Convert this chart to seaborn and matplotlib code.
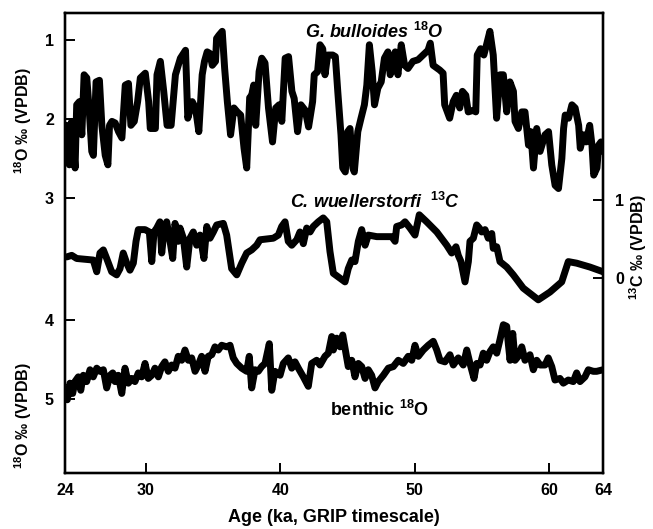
import numpy as np
import pandas as pd
import matplotlib
matplotlib.use("Agg")
import matplotlib.pyplot as plt
import seaborn as sns

# ---------------- data ----------------
bull_age = [24.0, 24.13, 24.32, 24.50, 24.75, 24.87, 25.07, 25.25, 25.42, 25.62, 25.81, 25.99, 26.11, 26.31,
            26.56, 26.74, 26.99, 27.19, 27.31, 27.49, 27.73, 27.98, 28.23, 28.48, 28.72, 28.90, 29.15, 29.40,
            29.60, 29.97, 30.22, 30.34, 30.72, 30.84, 31.09, 31.34, 31.59, 31.89, 32.21, 32.58, 32.96, 33.13,
            33.46, 33.70, 33.95, 34.20, 34.37, 34.57, 34.77, 34.95, 35.19, 35.27, 35.44, 35.69, 35.87, 36.07,
            36.31, 36.56, 36.81, 37.06, 37.31, 37.51, 37.73, 37.88, 38.03, 38.18, 38.43, 38.63, 38.87, 39.13,
            39.43, 39.67, 39.92, 40.12, 40.37, 40.62, 40.87, 41.04, 41.29, 41.54, 41.86, 42.11, 42.41, 42.53,
            42.78, 42.96, 43.16, 43.33, 43.53, 43.90, 44.10, 44.28, 44.52, 44.65, 44.84, 45.02, 45.19, 45.40,
            45.51, 45.77, 46.01, 46.26, 46.44, 46.63, 46.84, 47.01, 47.26, 47.51, 47.75, 48.01, 48.18, 48.38,
            48.55, 48.75, 49.00, 49.25, 49.50, 49.87, 50.25, 50.62, 50.99, 51.16, 51.37, 51.86, 52.11, 52.23,
            52.60, 52.86, 53.10, 53.35, 53.55, 53.80, 53.98, 54.35, 54.54, 54.65, 54.90, 55.14, 55.34, 55.59,
            55.84, 56.09, 56.34, 56.59, 56.84, 57.08, 57.34, 57.46, 57.71, 57.96, 58.20, 58.46, 58.63, 58.83,
            59.07, 59.32, 59.69, 59.95, 60.19, 60.44, 60.69, 60.94, 61.07, 61.19, 61.44, 61.69, 61.93, 62.19,
            62.31, 62.56, 62.75, 63.01, 63.18, 63.31, 63.55, 63.68, 63.85, 64.0]
bull_d18O = [2.54, 2.08, 2.58, 2.03, 2.62, 1.82, 1.78, 2.20, 1.44, 1.48, 1.91, 2.41, 2.46, 1.53,
             1.51, 2.08, 2.46, 2.58, 2.08, 2.03, 2.05, 2.16, 2.24, 1.57, 1.55, 2.08, 2.03, 1.78,
             1.48, 1.42, 1.78, 2.12, 2.12, 1.44, 1.27, 1.65, 2.08, 2.08, 1.44, 1.23, 1.13, 1.99,
             1.78, 1.86, 2.16, 1.44, 1.27, 1.15, 1.17, 1.32, 1.27, 0.98, 0.94, 0.89, 1.36, 1.78,
             2.20, 1.86, 1.91, 1.95, 2.37, 2.62, 1.73, 1.70, 1.57, 2.08, 1.40, 1.23, 1.29, 1.86,
             2.29, 1.86, 1.82, 2.03, 1.23, 1.21, 1.65, 1.74, 2.16, 1.82, 1.89, 2.10, 1.78, 1.44,
             1.40, 1.06, 1.11, 1.44, 1.19, 1.19, 1.21, 1.65, 2.20, 2.62, 2.67, 2.16, 2.12, 2.62,
             2.67, 2.16, 1.99, 1.82, 1.57, 1.06, 1.40, 1.82, 1.61, 1.53, 1.23, 1.15, 1.44, 1.32,
             1.15, 1.44, 1.06, 1.32, 1.36, 1.27, 1.25, 1.19, 1.13, 1.04, 1.32, 1.38, 1.42, 1.82,
             1.99, 1.78, 1.70, 1.86, 1.65, 1.70, 1.91, 1.89, 1.91, 1.19, 1.11, 1.19, 1.06, 0.89,
             1.19, 1.99, 1.44, 1.44, 1.91, 1.53, 1.65, 2.03, 2.12, 1.91, 1.91, 2.33, 2.16, 2.62,
             2.12, 2.41, 2.20, 2.16, 2.58, 2.84, 2.88, 2.50, 2.12, 1.95, 1.99, 1.82, 1.86, 2.08,
             2.37, 2.20, 2.29, 2.08, 2.33, 2.71, 2.62, 2.33, 2.29, 2.41]

cib_age = [24.13, 24.50, 24.87, 26.10, 26.36, 26.60, 26.85, 27.10, 27.47, 27.84, 28.09, 28.33, 28.59, 28.83,
           29.08, 29.28, 29.45, 29.95, 30.27, 30.45, 30.62, 30.82, 31.06, 31.19, 31.36, 31.56, 31.81, 32.01,
           32.18, 32.42, 32.55, 32.80, 33.05, 33.29, 33.54, 33.79, 34.04, 34.33, 34.54, 34.78, 35.03, 35.28,
           35.77, 36.02, 36.39, 36.77, 37.14, 37.51, 37.88, 38.25, 38.50, 39.49, 39.86, 40.11, 40.36, 40.60,
           40.86, 41.23, 41.47, 41.72, 41.97, 42.22, 42.46, 42.83, 43.20, 43.46, 43.70, 43.95, 44.82, 45.06,
           45.32, 45.56, 45.81, 46.06, 46.31, 46.55, 47.18, 48.29, 48.54, 48.66, 49.03, 49.28, 49.65, 50.02,
           50.34, 50.89, 51.64, 52.38, 52.75, 53.07, 53.24, 53.44, 53.74, 53.99, 54.11, 54.36, 54.61, 54.81,
           54.98, 55.23, 55.47, 55.73, 55.84, 56.10, 56.34, 56.84, 57.33, 58.07, 59.19, 60.06, 60.93, 61.42,
           62.04, 63.03, 64.0]
cib_d13C = [0.27, 0.29, 0.25, 0.23, 0.08, 0.32, 0.36, 0.25, 0.08, 0.04, 0.12, 0.32, 0.19, 0.10,
            0.19, 0.47, 0.62, 0.62, 0.59, 0.21, 0.59, 0.64, 0.72, 0.32, 0.59, 0.72, 0.47, 0.25,
            0.70, 0.47, 0.64, 0.51, 0.14, 0.51, 0.59, 0.42, 0.55, 0.25, 0.66, 0.51, 0.59, 0.68,
            0.70, 0.55, 0.12, 0.04, 0.19, 0.32, 0.36, 0.42, 0.49, 0.51, 0.55, 0.66, 0.72, 0.47,
            0.42, 0.49, 0.59, 0.44, 0.64, 0.59, 0.66, 0.72, 0.77, 0.72, 0.34, 0.06, -0.05, 0.12,
            0.23, 0.21, 0.47, 0.62, 0.42, 0.55, 0.53, 0.53, 0.47, 0.66, 0.68, 0.72, 0.64, 0.55,
            0.81, 0.72, 0.59, 0.42, 0.32, 0.40, 0.29, 0.21, -0.05, 0.21, 0.47, 0.51, 0.68, 0.64,
            0.59, 0.62, 0.51, 0.57, 0.38, 0.40, 0.21, 0.14, 0.04, -0.13, -0.28, -0.18, -0.05, 0.21,
            0.19, 0.14, 0.08]

ben_age = [24.00, 24.17, 24.37, 24.57, 24.74, 24.99, 25.17, 25.36, 25.61, 25.86, 26.10, 26.36, 26.60, 26.85,
           27.10, 27.35, 27.55, 27.72, 27.96, 28.22, 28.46, 28.71, 28.96, 29.20, 29.45, 29.70, 29.95, 30.19,
           30.45, 30.69, 30.94, 31.19, 31.43, 31.68, 31.93, 32.18, 32.42, 32.68, 32.92, 33.17, 33.42, 33.67,
           33.91, 34.16, 34.41, 34.65, 34.91, 35.15, 35.40, 35.65, 36.02, 36.27, 36.51, 36.77, 37.14, 37.51,
           37.70, 37.88, 38.13, 38.37, 38.62, 38.87, 39.19, 39.37, 39.61, 39.99, 40.23, 40.60, 40.86, 41.10,
           41.35, 41.72, 42.09, 42.34, 42.71, 42.96, 43.33, 43.58, 43.83, 43.95, 44.20, 44.45, 44.65, 44.89,
           45.06, 45.32, 45.56, 45.81, 46.06, 46.31, 46.55, 46.80, 47.05, 47.29, 47.67, 48.04, 48.41, 48.78,
           49.15, 49.52, 49.78, 50.02, 50.27, 50.64, 51.01, 51.38, 51.64, 51.88, 52.25, 52.62, 52.87, 53.24,
           53.61, 53.87, 54.11, 54.41, 54.61, 54.86, 55.10, 55.35, 55.60, 55.84, 56.10, 56.34, 56.59, 56.84,
           56.96, 57.09, 57.29, 57.46, 57.70, 57.96, 58.20, 58.57, 58.82, 59.07, 59.32, 59.69, 59.93, 60.19,
           60.43, 60.80, 61.05, 61.42, 61.79, 62.04, 62.29, 62.66, 62.91, 63.28, 63.53, 64.0]
ben_d18O = [4.89, 5.01, 4.80, 4.93, 4.78, 4.72, 4.89, 4.70, 4.78, 4.63, 4.72, 4.61, 4.65, 4.63,
            4.86, 4.70, 4.67, 4.78, 4.70, 4.93, 4.61, 4.80, 4.74, 4.78, 4.67, 4.72, 4.55, 4.74,
            4.70, 4.61, 4.72, 4.59, 4.53, 4.65, 4.57, 4.61, 4.46, 4.51, 4.38, 4.51, 4.48, 4.65,
            4.57, 4.46, 4.65, 4.46, 4.44, 4.34, 4.38, 4.32, 4.34, 4.32, 4.48, 4.55, 4.61, 4.65,
            4.46, 4.86, 4.63, 4.65, 4.59, 4.55, 4.30, 4.89, 4.65, 4.70, 4.55, 4.48, 4.61, 4.53,
            4.61, 4.72, 4.84, 4.55, 4.51, 4.57, 4.46, 4.42, 4.21, 4.38, 4.23, 4.34, 4.19, 4.42,
            4.59, 4.51, 4.72, 4.55, 4.59, 4.74, 4.63, 4.70, 4.86, 4.78, 4.70, 4.61, 4.59, 4.51,
            4.55, 4.46, 4.51, 4.32, 4.46, 4.38, 4.32, 4.27, 4.38, 4.51, 4.53, 4.44, 4.57, 4.48,
            4.57, 4.38, 4.55, 4.74, 4.55, 4.57, 4.42, 4.51, 4.40, 4.34, 4.42, 4.25, 4.06, 4.08,
            4.30, 4.51, 4.17, 4.51, 4.46, 4.34, 4.51, 4.44, 4.63, 4.51, 4.57, 4.57, 4.48, 4.59,
            4.76, 4.74, 4.80, 4.76, 4.78, 4.67, 4.78, 4.72, 4.63, 4.65, 4.65, 4.63]

x_ticks = [24, 30, 40, 50, 60, 64]
bull_ticks = [1, 2, 3]
ben_ticks = [4, 5]
cib_ticks = [0, 1]

# ---------------- style ----------------
sns.set_style("ticks")
plt.rcParams["font.family"] = ["Liberation Sans", "DejaVu Sans"]
plt.rcParams["mathtext.fontset"] = "custom"
plt.rcParams["mathtext.rm"] = "Liberation Sans"
plt.rcParams["mathtext.it"] = "Liberation Sans:italic"
plt.rcParams["mathtext.bf"] = "Liberation Sans:bold"
for k in ("text.color", "axes.labelcolor", "xtick.color", "ytick.color", "axes.edgecolor"):
    plt.rcParams[k] = "black"

fig = plt.figure(figsize=(6.53, 5.29), dpi=100)
ax1 = fig.add_axes([65/653, 1-473/529, 538/653, 460/529])
ax_b = ax1.twinx()
ax_c = ax1.twinx()

LW = 5.0
kw = dict(color="black", linewidth=LW, estimator=None, sort=False, legend=False)
sns.lineplot(x=bull_age, y=bull_d18O, ax=ax1, **kw)
sns.lineplot(x=ben_age, y=ben_d18O, ax=ax_b, **kw)
sns.lineplot(x=cib_age, y=cib_d13C, ax=ax_c, **kw)
for a in (ax1, ax_b, ax_c):
    for ln in a.lines:
        ln.set_solid_joinstyle("round")
        ln.set_solid_capstyle("round")

ax1.set_xlim(24, 64)
ax1.set_ylim(6.481, 0.658)
ax_b.set_ylim(5.937, 0.114)
ax_c.set_ylim(-2.5, 3.397)

tick_font = dict(fontsize=11.5, fontweight="bold")
ax1.set_xticks(x_ticks)
ax1.set_xticklabels([str(t) for t in x_ticks], **tick_font)
ax1.set_yticks(bull_ticks)
ax1.set_yticklabels([str(t) for t in bull_ticks], **tick_font)
ax_b.yaxis.set_ticks_position("left")
ax_b.yaxis.set_label_position("left")
ax_b.set_yticks(ben_ticks)
ax_b.set_yticklabels([str(t) for t in ben_ticks], **tick_font)
ax_c.yaxis.set_ticks_position("right")
ax_c.set_yticks(cib_ticks)
ax_c.set_yticklabels([str(t) for t in cib_ticks], **tick_font)

ax1.tick_params(axis="x", direction="in", length=7, width=1.4, pad=7, top=False)
ax1.tick_params(axis="y", direction="in", length=7, width=1.4, pad=8, right=False)
ax_b.tick_params(axis="y", direction="in", length=7, width=1.4, pad=8, right=False, left=True)
ax_c.tick_params(axis="y", direction="in", length=7, width=1.4, pad=9, left=False, right=True)

for a in (ax1, ax_b, ax_c):
    for s in a.spines.values():
        s.set_linewidth(1.6)
        s.set_color("black")

lab_font = dict(fontsize=11.5, fontweight="bold")
ax1.set_xlabel("Age (ka, GRIP timescale)", fontsize=13, fontweight="bold")
ax1.xaxis.set_label_coords(0.5, -0.078)
ax1.set_ylabel(r"$\mathbf{^{18}}$O ‰ (VPDB)", **lab_font)
ax1.yaxis.set_label_coords(-0.058, 0.765)
ax_b.set_ylabel(r"$\mathbf{^{18}}$O ‰ (VPDB)", **lab_font)
ax_b.yaxis.set_label_coords(-0.058, 0.124)
ax_c.set_ylabel(r"$\mathbf{^{13}}$C ‰ (VPDB)", **lab_font)
ax_c.yaxis.set_label_coords(1.045, 0.491)

ax1.text(0.446, 0.959, r"G. bulloides $\mathbf{^{18}}$O", transform=ax1.transAxes,
         fontsize=13, fontstyle="italic", fontweight="bold", va="center", ha="left")
ax1.text(0.418, 0.589, r"C. wuellerstorfi  $\mathbf{^{13}}$C", transform=ax1.transAxes,
         fontsize=13, fontstyle="italic", fontweight="bold", va="center", ha="left")
ax1.text(0.4926, 0.137, r"benthic $\mathbf{^{18}}$O", transform=ax1.transAxes,
         fontsize=13, fontweight="bold", va="center", ha="left")

fig.savefig("out.png", dpi=100)
